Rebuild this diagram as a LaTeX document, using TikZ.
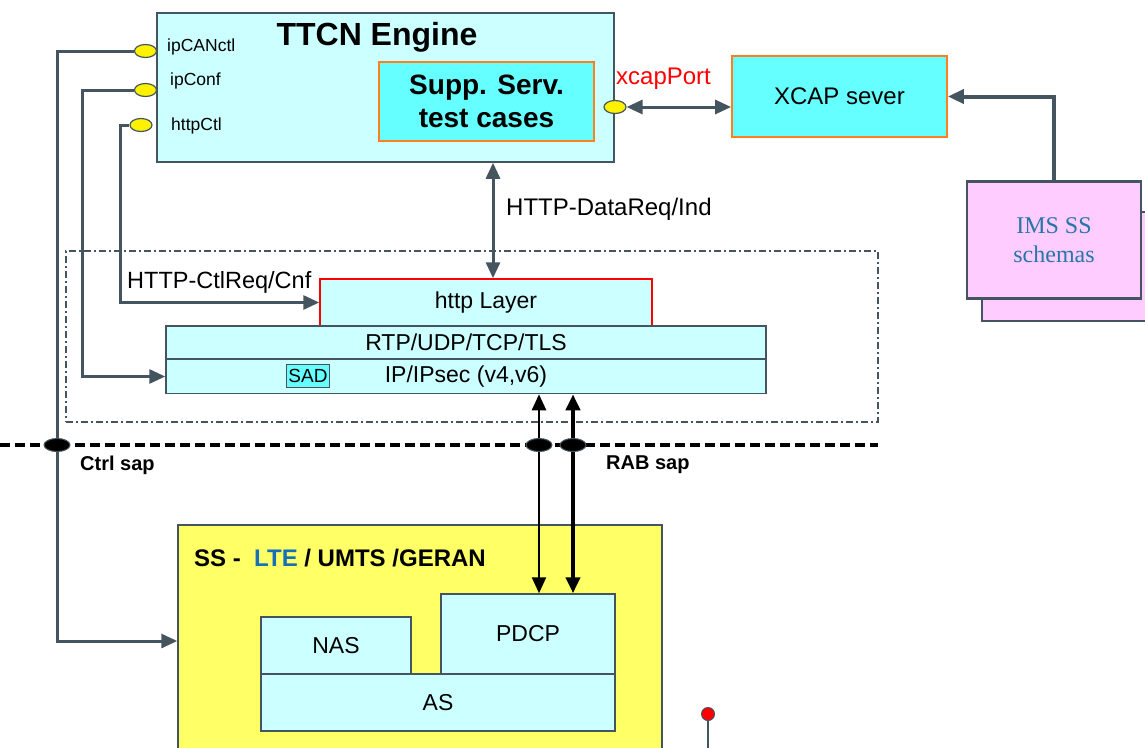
\documentclass[tikz,border=0pt]{standalone}
\usepackage{fontspec}
\setmainfont{Liberation Sans}
\newfontfamily\schemafont{Liberation Serif}
\usepackage{tikz}
\usetikzlibrary{arrows.meta,shapes.geometric,positioning}
\definecolor{linegray}{HTML}{45555F}
\definecolor{paleCyan}{HTML}{CCFFFF}
\definecolor{brightCyan}{HTML}{66FFFF}
\definecolor{ssYellow}{HTML}{FFFF66}
\definecolor{imsPink}{HTML}{FFCCFF}
\definecolor{boxOrange}{HTML}{FF7F1F}
\definecolor{imsBlue}{HTML}{2676A8}
\definecolor{lteBlue}{HTML}{1570B8}
\newcommand{\setfs}[1]{\fontsize{#1}{#1}\selectfont}

\begin{document}
\begin{tikzpicture}[x=1pt, y=-1pt,
		layer/.style={rectangle, draw=linegray, line width=1.5pt, fill=paleCyan, inner sep=0pt, font=\setfs{23}},
		hot/.style={rectangle, draw=boxOrange, line width=1.8pt, fill=brightCyan, inner sep=0pt},
		port/.style={ellipse, draw=linegray, line width=1.2pt, fill=yellow, minimum width=22pt, minimum height=13pt, inner sep=0pt},
		sap/.style={ellipse, draw=linegray, line width=1pt, fill=black, minimum width=26pt, minimum height=13pt, inner sep=0pt},
		schema/.style={rectangle, draw=linegray, line width=2.5pt, fill=imsPink, inner sep=0pt},
		frame/.style={rectangle, draw=linegray, line width=1.8pt, dash pattern=on 7pt off 3pt on 2pt off 3pt},
		lbl/.style={inner sep=0pt, anchor=base west},
		conn/.style={draw=linegray, line width=3pt},
		rab/.style={draw=black, line width=2.5pt},
		sapline/.style={draw=black, line width=4pt, dash pattern=on 10pt off 5pt},
		reddot/.style={circle, draw=linegray, line width=1pt, fill=red, minimum size=13pt, inner sep=0pt},
		>={Triangle[length=16pt,width=14pt]}
		]
	
		\useasboundingbox (0,0) rectangle (1145,747);
	
		% protocol stack frame
		\node[frame, minimum width=812pt, minimum height=171pt] (stack) at (472,336.5) {};
	
		% test engine
		\node[layer, minimum width=457pt, minimum height=149pt] (engine) at (385.5,87.5) {};
		\node[inner sep=0pt, anchor=base, font=\bfseries\setfs{32}] (enginetitle) at (377,45) {TTCN Engine};
		\node[hot, minimum width=215pt, minimum height=79pt, align=center, font=\bfseries\fontsize{28}{33}\selectfont] (supp) at (486.5,101.5) {Supp. Serv.\\test cases};
	
		\node[port] (pcan) at (145.5,51) {};
		\node[port] (pconf) at (145.5,90) {};
		\node[port] (phttp) at (141,125) {};
		\node[lbl, font=\setfs{17.5}] (lcan) at (167,51) {ipCANctl};
		\node[lbl, font=\setfs{17.5}] (lconf) at (170,85) {ipConf};
		\node[lbl, font=\setfs{17.5}] (lhttp) at (171,130) {httpCtl};
	
		\node[port] (xport) at (615,107) {};
		\node[lbl, text=red, font=\setfs{24}] (lxport) at (616,84) {xcapPort};
		\node[hot, minimum width=215pt, minimum height=81pt, font=\setfs{24}] (xcap) at (839.5,96.5) {XCAP sever};
	
		\node[schema, minimum width=183pt, minimum height=109pt] (imsback) at (1073.5,266.5) {};
		\node[schema, minimum width=174pt, minimum height=117pt, align=center, text=imsBlue, font=\schemafont\fontsize{24}{29}\selectfont] (ims) at (1054,240) {IMS SS\\schemas};
	
		% stack layers
		\node[layer, draw=red, minimum width=332pt, minimum height=47pt] (http) at (486,302.5) {http Layer};
		\node[layer, minimum width=600pt, minimum height=33pt] (rtp) at (466,342.5) {RTP/UDP/TCP/TLS};
		\node[layer, minimum width=600pt, minimum height=34pt] (ip) at (466,376.5) {IP/IPsec (v4,v6)};
		\node[hot, draw=linegray, line width=1.2pt, minimum width=43pt, minimum height=23pt, font=\setfs{19}] (sad) at (308,376) {SAD};
	
		\node[lbl, font=\setfs{24}] (ldata) at (506,215) {HTTP-DataReq/Ind};
		\node[lbl, font=\setfs{23.5}] (lctl) at (127,288) {HTTP-CtlReq/Cnf};
	
		% system simulator
		\node[rectangle, draw=linegray, line width=1.5pt, fill=ssYellow, minimum width=484pt, minimum height=232pt] (ss) at (420,641) {};
		\node[lbl, font=\bfseries\setfs{24}] (sstitle) at (194,566) {SS -\ \ \textcolor{lteBlue}{LTE} / UMTS /GERAN};
		\node[layer, minimum width=150pt, minimum height=57pt] (nas) at (336,645.5) {NAS};
		\node[layer, minimum width=174pt, minimum height=80pt] (pdcp) at (528,634) {PDCP};
		\node[layer, minimum width=354pt, minimum height=57pt] (as) at (438,702.5) {AS};
	
		\node[lbl, font=\bfseries\setfs{20}] (lctrl) at (80,470) {Ctrl sap};
		\node[lbl, font=\bfseries\setfs{20}] (lrab) at (606,469) {RAB sap};
	
		\coordinate (sapl) at (0,445);
		\coordinate (sapr) at (878,445);
		\coordinate (csap) at (57,445);
		\coordinate (rsap1) at (539,445);
		\coordinate (rsap2) at (573,445);
		\coordinate (dx) at (493,0);
		\coordinate (dotend) at (708,752);
	
		% connectors
		\draw[conn,->] (pcan.west) -| (csap) |- (ss.west);
		\draw[conn,->] (pconf.west) -| ([xshift=-83pt]ip.west) -- (ip.west);
		\draw[conn,->] (phttp.west) -| ([xshift=-199pt]http.west) -- (http.west);
		\draw[conn,<->] (engine.south -| dx) -- (http.north -| dx);
		\draw[conn,<->] (xport.east) -- (xport.east -| xcap.west);
		\draw[conn, line width=4pt, ->] (ims.north) |- (xcap.east);
	
		\draw[sapline] (sapl) -- (sapr);
		\draw[rab,<->] (ip.south -| rsap1) -- (pdcp.north -| rsap1);
		\draw[rab, line width=4.5pt, <->] (ip.south -| rsap2) -- (pdcp.north -| rsap2);
	
		\node[sap] (ctrlsap) at (csap) {};
		\node[sap] (rabsap1) at (rsap1) {};
		\node[sap] (rabsap2) at (rsap2) {};
	
		\node[reddot] (rdot) at (708,714) {};
		\draw[draw=linegray, line width=2pt] (rdot.south) -- (dotend);
	
	\end{tikzpicture}
\end{document}
